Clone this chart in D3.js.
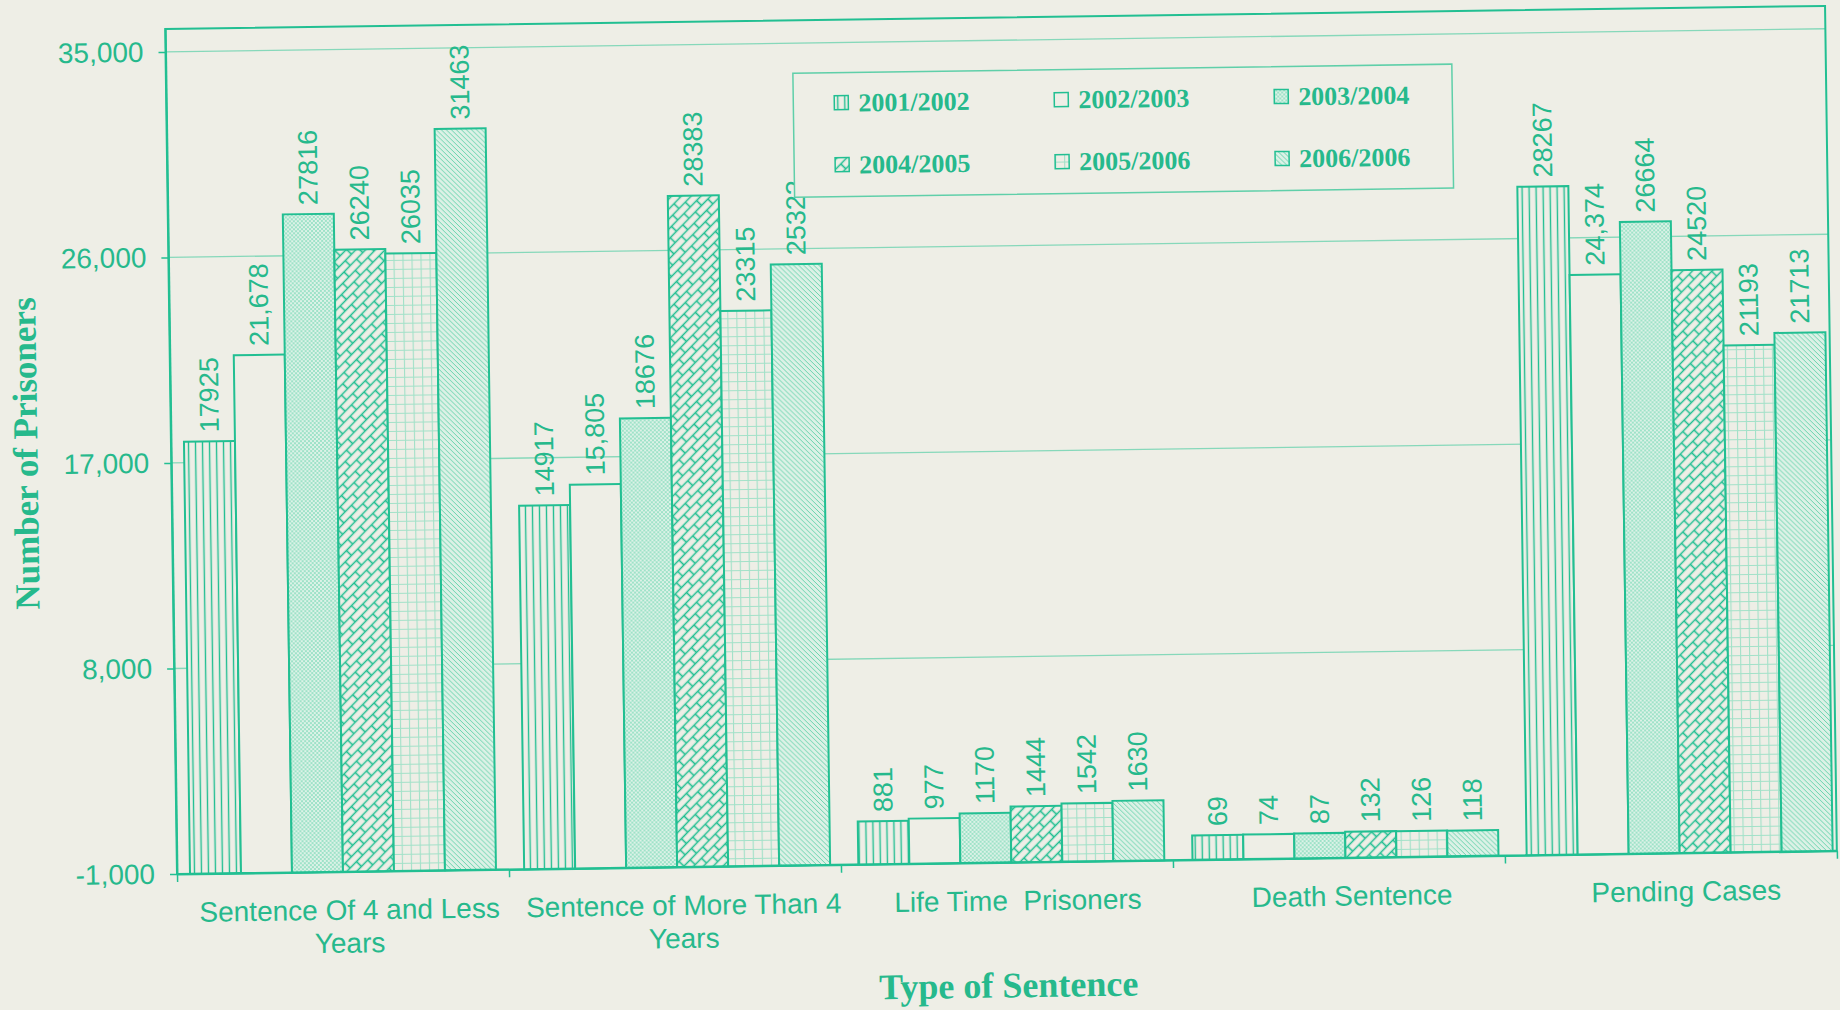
<!DOCTYPE html>
<html>
<head>
<meta charset="utf-8">
<script src="https://cdn.jsdelivr.net/npm/d3@7"></script>
<style>
  body { margin: 0; background: #eeeee6; }
  svg { display: block; }
</style>
</head>
<body>
<div id="chart"></div>
<script>
// DATA
const categories = ['Sentence Of 4 and Less Years', 'Sentence of More Than 4 Years', 'Life Time  Prisoners', 'Death Sentence', 'Pending Cases'];
const seriesNames = ['2001/2002', '2002/2003', '2003/2004', '2004/2005', '2005/2006', '2006/2006'];
const values2001 = [17925, 14917, 881, 69, 28267];
const values2002 = [21678, 15805, 977, 74, 24374];
const values2003 = [27816, 18676, 1170, 87, 26664];
const values2004 = [26240, 28383, 1444, 132, 24520];
const values2005 = [26035, 23315, 1542, 126, 21193];
const values2006 = [31463, 25322, 1630, 118, 21713];
const commaLabels = [21678, 15805, 24374];   // these are printed with a separator
const yTicks = [-1000, 8000, 17000, 26000, 35000];
const yTickLabels = ['-1,000', '8,000', '17,000', '26,000', '35,000'];

const seriesValues = [values2001, values2002, values2003, values2004, values2005, values2006];

// COLOURS / FONTS
const paper = '#eeeee6';
const teal = '#22bf92';
const tealText = '#26b98c';
const sans = '"Liberation Sans", Arial, Helvetica, sans-serif';
const serif = '"Liberation Serif", "Times New Roman", Times, serif';

const width = 1840, height = 1010;
const margin = { left: 177, top: 29 };
const plotW = 1660, plotH = 845;

const svg = d3.select('#chart')
  .append('svg')
  .attr('width', width)
  .attr('height', height);

svg.append('rect').attr('width', width).attr('height', height).attr('fill', paper);

// PATTERNS
const defs = svg.append('defs');
function pattern(id, w, h, bg, path, stroke, sw, transform) {
  const p = defs.append('pattern')
    .attr('id', id)
    .attr('patternUnits', 'userSpaceOnUse')
    .attr('width', w)
    .attr('height', h);
  if (transform) p.attr('patternTransform', transform);
  p.append('rect').attr('width', w).attr('height', h).attr('fill', bg);
  if (path) p.append('path').attr('d', path).attr('stroke', stroke).attr('stroke-width', sw).attr('fill', 'none');
}
pattern('p0', 7, 10, paper, 'M3.5,0V10', teal, 1.4);
pattern('p1', 10, 10, paper, null);
pattern('p2', 4, 4, '#dcf2e7', 'M0,0L4,4M4,0L0,4', '#74d6b3', 0.6);
pattern('p3', 18, 14, paper, 'M0,3.5H18M0,10.5H18M4.5,3.5V10.5M13.5,10.5V14M13.5,0V3.5', teal, 1.6, 'rotate(-45)');
pattern('p4', 9, 9, paper, 'M0,0H9M0,0V9', '#a2e1c8', 2.2);
pattern('p5', 5, 5, '#dcf1e6', 'M0,0L5,5M-1,4L1,6M4,-1L6,1', '#6ad3ae', 1);

// the scanned page sits slightly tilted
const g = svg.append('g')
  .attr('transform', `rotate(-0.8, ${margin.left}, ${margin.top + plotH}) translate(${margin.left}, ${margin.top})`);

// SCALES
const y = d3.scaleLinear().domain([-1000, 36000]).range([plotH, 0]);
const x0 = d3.scaleBand().domain(categories).range([5, plotW + 16]);
const x1 = d3.scaleBand().domain(seriesNames).range([8, 314]);

// GRID
g.append('g')
  .selectAll('line')
  .data(yTicks.slice(1))
  .enter()
  .append('line')
    .attr('x1', 0)
    .attr('x2', plotW)
    .attr('y1', d => y(d))
    .attr('y2', d => y(d))
    .attr('stroke', '#86d8ba')
    .attr('stroke-width', 1.3);

// PLOT BORDER
g.append('rect')
  .attr('width', plotW)
  .attr('height', plotH)
  .attr('fill', 'none')
  .attr('stroke', teal)
  .attr('stroke-width', 2);

// BARS
const groups = g.selectAll('.series')
  .data(seriesNames)
  .enter()
  .append('g')
    .attr('class', 'series');

groups.selectAll('rect')
  .data((s, i) => seriesValues[i].map((v, j) => ({ s, i, v, cat: categories[j] })))
  .enter()
  .append('rect')
    .attr('x', d => x0(d.cat) + x1(d.s))
    .attr('y', d => y(d.v))
    .attr('width', x1.bandwidth())
    .attr('height', d => y(-1000) - y(d.v))
    .attr('fill', d => `url(#p${d.i})`)
    .attr('stroke', teal)
    .attr('stroke-width', 2);

groups.selectAll('text')
  .data((s, i) => seriesValues[i].map((v, j) => ({ s, i, v, cat: categories[j] })))
  .enter()
  .append('text')
    .attr('transform', d => `translate(${x0(d.cat) + x1(d.s) + x1.bandwidth() / 2}, ${y(d.v) - 9}) rotate(-90)`)
    .attr('dy', '0.35em')
    .attr('font-family', sans)
    .attr('font-size', 27)
    .attr('fill', tealText)
    .text(d => commaLabels.includes(d.v) ? d3.format(',')(d.v) : String(d.v));

// Y AXIS
const yAxis = g.append('g')
  .call(d3.axisLeft(y).tickValues(yTicks).tickFormat((d, i) => yTickLabels[i]).tickSize(7).tickSizeOuter(0).tickPadding(15));
yAxis.select('.domain').attr('stroke', teal).attr('stroke-width', 2);
yAxis.selectAll('.tick line').attr('stroke', teal).attr('stroke-width', 1.5);
yAxis.selectAll('.tick text')
  .attr('font-family', sans)
  .attr('font-size', 28)
  .attr('fill', tealText);

// X AXIS
const xTicks = d3.scaleLinear().domain([0, categories.length]).range([0, plotW]);
const xAxis = g.append('g')
  .attr('transform', `translate(0, ${plotH})`)
  .call(d3.axisBottom(xTicks).tickValues(d3.range(categories.length + 1)).tickFormat('').tickSize(8).tickSizeOuter(0));
xAxis.select('.domain').attr('stroke', teal).attr('stroke-width', 2);
xAxis.selectAll('.tick line').attr('stroke', teal).attr('stroke-width', 1.5);

// CATEGORY LABELS
const catLabels = g.append('g')
  .selectAll('text')
  .data(categories)
  .enter()
  .append('text')
    .attr('x', d => x0(d) + x0.bandwidth() / 2)
    .attr('y', plotH + 48)
    .attr('text-anchor', 'middle')
    .attr('font-family', sans)
    .attr('font-size', 28)
    .attr('fill', tealText)
    .style('white-space', 'pre')
    .text(d => d);

function wrap(text, w) {
  text.each(function () {
    const t = d3.select(this);
    const words = t.text().split(' ');
    const xx = t.attr('x'), yy = t.attr('y');
    t.text(null);
    let line = [];
    let tspan = t.append('tspan').attr('x', xx).attr('y', yy);
    let lineNo = 0;
    words.forEach(word => {
      line.push(word);
      tspan.text(line.join(' '));
      if (tspan.node().getComputedTextLength() > w && line.length > 1) {
        line.pop();
        tspan.text(line.join(' '));
        line = [word];
        lineNo++;
        tspan = t.append('tspan').attr('x', xx).attr('y', +yy + lineNo * 33).text(word);
      }
    });
  });
}
catLabels.call(wrap, x0.bandwidth() - 2);

// AXIS TITLES
g.append('text')
  .attr('transform', `translate(${31 - margin.left}, ${plotH / 2}) rotate(-90)`)
  .attr('dy', '0.35em')
  .attr('text-anchor', 'middle')
  .attr('font-family', serif)
  .attr('font-weight', 'bold')
  .attr('font-size', 35)
  .attr('fill', tealText)
  .text('Number of Prisoners');

g.append('text')
  .attr('x', plotW / 2)
  .attr('y', plotH + 135)
  .attr('text-anchor', 'middle')
  .attr('font-family', serif)
  .attr('font-weight', 'bold')
  .attr('font-size', 36)
  .attr('fill', tealText)
  .text('Type of Sentence');

// LEGEND
const legend = g.append('g').attr('transform', 'translate(627, 53)');
legend.append('rect')
  .attr('width', 659)
  .attr('height', 124)
  .attr('fill', paper)
  .attr('stroke', '#5fcfa9')
  .attr('stroke-width', 1.5);

const items = legend.selectAll('.item')
  .data(seriesNames)
  .enter()
  .append('g')
    .attr('class', 'item')
    .attr('transform', (d, i) => `translate(${41 + (i % 3) * 220}, ${30 + Math.floor(i / 3) * 62})`);

items.append('rect')
  .attr('x', 0)
  .attr('y', -7)
  .attr('width', 14)
  .attr('height', 14)
  .attr('fill', (d, i) => `url(#p${i})`)
  .attr('stroke', teal)
  .attr('stroke-width', 1.5);

items.append('text')
  .attr('x', 24)
  .attr('y', 9)
  .attr('font-family', serif)
  .attr('font-weight', 'bold')
  .attr('font-size', 26)
  .attr('fill', tealText)
  .text(d => d);
</script>
</body>
</html>
